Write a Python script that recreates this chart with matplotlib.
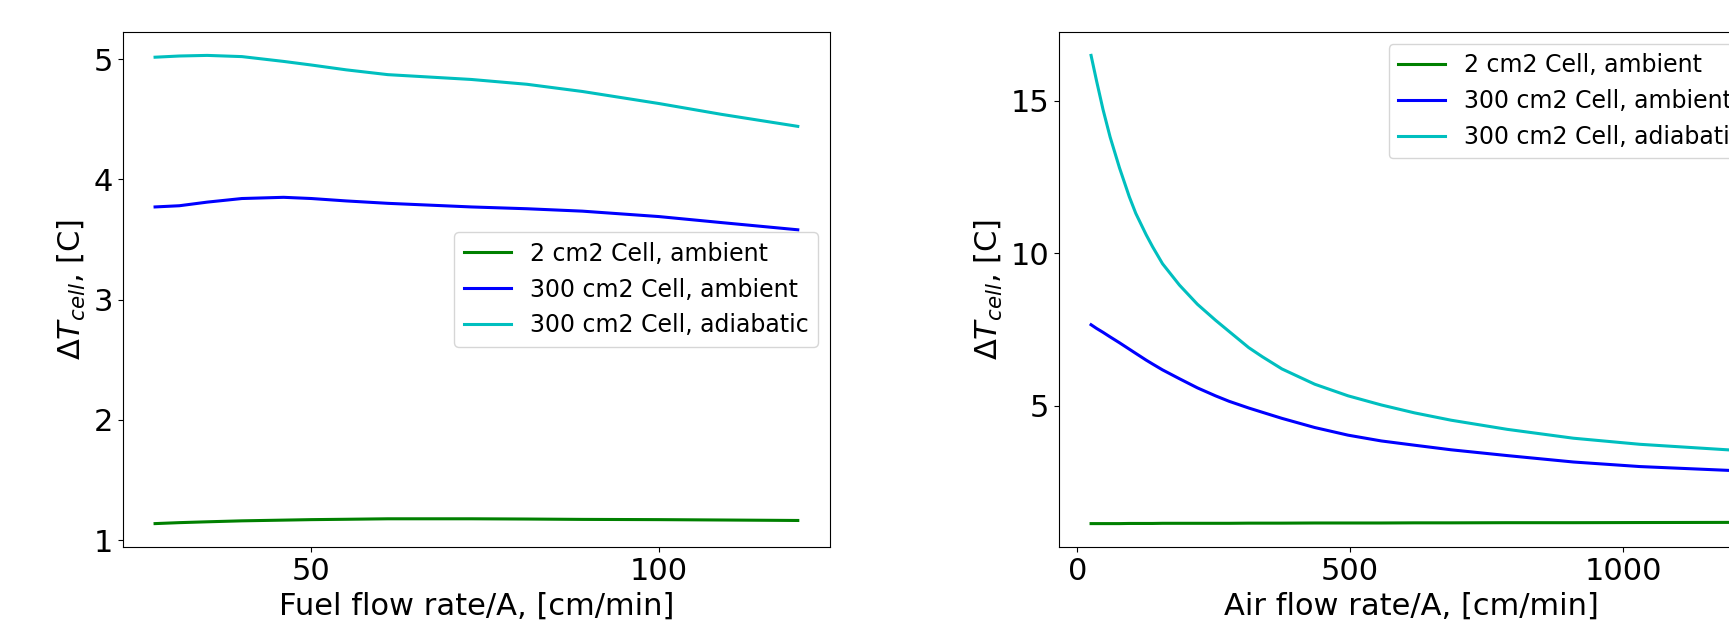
import matplotlib
matplotlib.use("Agg")
import matplotlib.pyplot as plt

# fuel flow sweep
fuel_flow = [27.5, 31, 35, 40, 46, 50, 55, 61, 73, 81, 89, 100, 109, 120]
fuel_dT_2cm2 = [1.137, 1.145, 1.152, 1.16, 1.166, 1.17, 1.173, 1.177, 1.177, 1.175, 1.172, 1.17, 1.167, 1.163]
fuel_dT_300_amb = [3.77, 3.78, 3.81, 3.84, 3.85, 3.84, 3.82, 3.80, 3.77, 3.755, 3.735, 3.69, 3.64, 3.58]
fuel_dT_300_adi = [5.015, 5.025, 5.03, 5.02, 4.98, 4.95, 4.91, 4.87, 4.83, 4.79, 4.73, 4.63, 4.54, 4.44]

# air flow sweep
air_flow = [25, 35, 47, 60, 77, 95, 107, 126, 138, 156, 187, 220, 253, 278, 314, 339, 375,
            435, 496, 557, 618, 685, 788, 909, 1031, 1200]
air_dT_2cm2 = [1.13, 1.13, 1.13, 1.13, 1.13, 1.135, 1.135, 1.135, 1.135, 1.14, 1.14, 1.14, 1.14,
               1.14, 1.145, 1.145, 1.145, 1.15, 1.15, 1.15, 1.155, 1.155, 1.16, 1.16, 1.165, 1.17]
air_dT_300_amb = [7.65, 7.53, 7.40, 7.25, 7.06, 6.85, 6.71, 6.49, 6.36, 6.17, 5.88, 5.58, 5.32,
                  5.14, 4.92, 4.78, 4.58, 4.28, 4.03, 3.84, 3.70, 3.55, 3.36, 3.15, 3.00, 2.87]
air_dT_300_adi = [16.48, 15.65, 14.70, 13.80, 12.80, 11.85, 11.30, 10.60, 10.20, 9.65, 8.95, 8.32,
                  7.80, 7.43, 6.90, 6.60, 6.20, 5.70, 5.32, 5.02, 4.76, 4.52, 4.22, 3.93, 3.73, 3.54]

labels = ["2 cm2 Cell, ambient", "300 cm2 Cell, ambient", "300 cm2 Cell, adiabatic"]
colors = ["g", "b", "c"]

fs = 22
fig = plt.figure(figsize=(17.29, 6.31), dpi=100)
ax1 = fig.add_axes([0.0711, 0.1331, 0.4089, 0.8162])
ax2 = fig.add_axes([0.6125, 0.1331, 0.4078, 0.8162])

for y, c, lab in zip([fuel_dT_2cm2, fuel_dT_300_amb, fuel_dT_300_adi], colors, labels):
    ax1.plot(fuel_flow, y, color=c, lw=2.2, label=lab)
for y, c, lab in zip([air_dT_2cm2, air_dT_300_amb, air_dT_300_adi], colors, labels):
    ax2.plot(air_flow, y, color=c, lw=2.2, label=lab)

ax1.set_xticks([50, 100])
ax1.set_yticks([1, 2, 3, 4, 5])
ax2.set_xticks([0, 500, 1000])
ax2.set_yticks([5, 10, 15])

ax1.set_xlabel("Fuel flow rate/A, [cm/min]", fontsize=fs)
ax2.set_xlabel("Air flow rate/A, [cm/min]", fontsize=fs)
for ax in (ax1, ax2):
    ax.set_ylabel(r"$\Delta T_{cell}$, [C]", fontsize=fs)
    ax.tick_params(labelsize=fs)

ax1.legend(loc="center right", fontsize=17)
ax2.legend(loc="upper right", fontsize=17)

fig.savefig("out.png", dpi=100)
